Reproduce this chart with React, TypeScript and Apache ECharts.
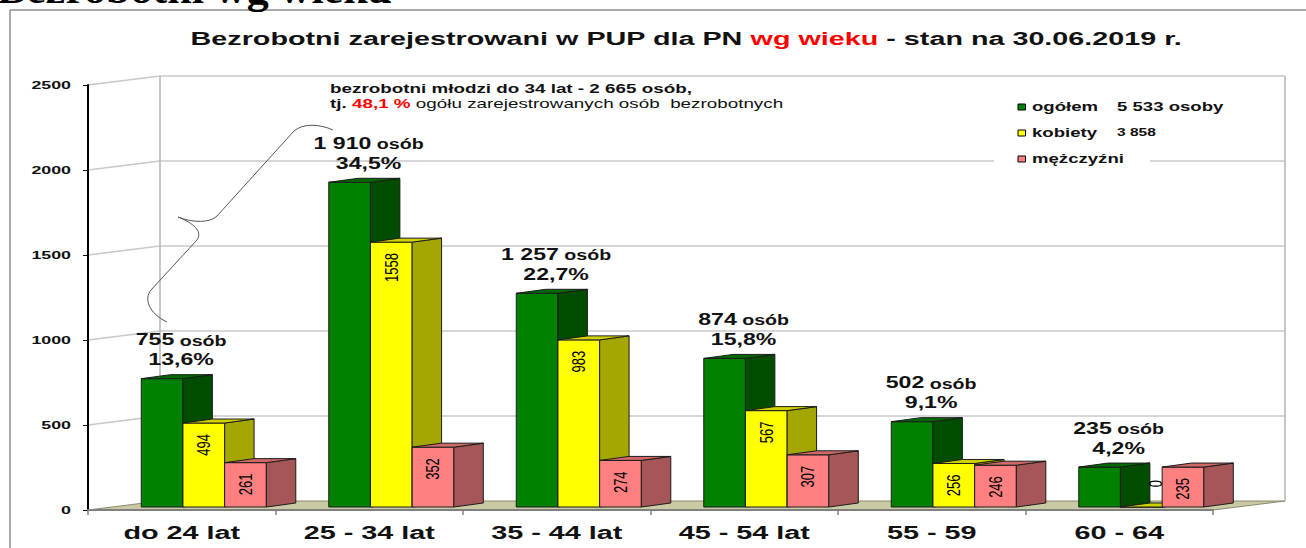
import React, { useEffect, useRef } from "react";
import * as echarts from "echarts";

// ---------- data ----------
const categories = ["do 24 lat", "25 - 34 lat", "35 - 44 lat", "45 - 54 lat", "55 - 59", "60 - 64"];
const seriesNames = ["ogółem", "kobiety", "mężczyźni"];
const totalValues = [755, 1910, 1257, 874, 502, 235];
const womenValues = [494, 1558, 983, 567, 256, 0];
const menValues = [261, 352, 274, 307, 246, 235];
const sharePercent = [13.6, 34.5, 22.7, 15.8, 9.1, 4.2];
const yTicks = [0, 500, 1000, 1500, 2000, 2500];
const youngCount = 2665;
const youngShare = 48.1;
const titleParts = ["Bezrobotni zarejestrowani w PUP dla PN ", "wg wieku", " - stan na 30.06.2019 r."];
const slideTitle = "Bezrobotni wg wieku";

// ---------- style ----------
const FONT = "'Liberation Sans', Arial, Helvetica, sans-serif";
const SX = 1.55; // horizontal stretch of texts in the reference
const DX = 72; // back wall offset
const DY = -9;

const barColors = [
  { front: "#008000", side: "#004d00", top: "#006a00" },
  { front: "#ffff00", side: "#a6a600", top: "#d2d200" },
  { front: "#ff8080", side: "#a65656", top: "#d06868" },
];

const fmt = (n: number) => String(n).replace(/\B(?=(\d{3})+(?!\d))/g, " ");
const pct = (p: number) => p.toFixed(1).replace(".", ",");
const sum = (a: number[]) => a.reduce((s, v) => s + v, 0);

const BRACE =
  "M333,130 C320,124 303,123 294,131 L217,216 C210,223 193,223 178,217 C193,223 203,231 197,240 L151,290 C144,298 148,313 167,322";
echarts.graphic.registerShape("brace", echarts.graphic.extendPath(BRACE, {}));

const renderWalls = (params: any, api: any) => {
  const cs = params.coordSys;
  const v = api.value(1);
  const y = api.coord([0, v])[1];
  const y0 = api.coord([0, 0])[1];
  const x0 = cs.x;
  const x1 = cs.x + cs.width;
  const grid = { stroke: "#c8c8c8", lineWidth: 1.5 };
  const ch: any[] = [];
  if (v === 0) {
    ch.push({
      type: "polygon",
      shape: { points: [[x0, y], [x1, y], [x1 + DX, y + DY], [x0 + DX, y + DY]] },
      style: { fill: "#c9c9a4", stroke: "#8a8a70", lineWidth: 1 },
    });
  } else {
    ch.push({ type: "line", shape: { x1: x0 + DX, y1: y + DY, x2: x1 + DX, y2: y + DY }, style: grid });
    ch.push({ type: "line", shape: { x1: x0, y1: y, x2: x0 + DX, y2: y + DY }, style: grid });
  }
  if (v === yTicks[yTicks.length - 1]) {
    const edge = { stroke: "#b4b4b4", lineWidth: 1.5 };
    ch.push({ type: "line", shape: { x1: x0 + DX, y1: y + DY, x2: x0 + DX, y2: y0 + DY }, style: edge });
    ch.push({ type: "line", shape: { x1: x1 + DX, y1: y + DY, x2: x1 + DX, y2: y0 + DY }, style: edge });
  }
  return { type: "group", children: ch };
};

const renderBar = (k: number) => (params: any, api: any) => {
  const idx = params.dataIndex;
  const v = api.value(1);
  const c = api.coord([idx, 0]);
  const band = api.size([1, 0])[0];
  const base = c[1] - 3;
  const top = api.coord([idx, v])[1] - 3;
  const w = band * 0.2224;
  const dx = band * 0.157;
  const dy = -4;
  const x = c[0] - band * 0.216 + k * w;
  const col = barColors[k];
  const edge = { stroke: "#1c1c1c", lineWidth: 1 };
  const children: any[] = [
    { type: "rect", shape: { x, y: top, width: w, height: base - top }, style: { fill: col.front, ...edge } },
    {
      type: "polygon",
      shape: { points: [[x + w, top], [x + w + dx, top + dy], [x + w + dx, base + dy], [x + w, base]] },
      style: { fill: col.side, ...edge },
    },
    {
      type: "polygon",
      shape: { points: [[x, top], [x + dx, top + dy], [x + w + dx, top + dy], [x + w, top]] },
      style: { fill: col.top, ...edge },
    },
  ];
  if (k === 0) {
    const lx = x + w / 2 + 19;
    children.push({
      type: "text",
      x: lx,
      y: top - 39,
      scaleX: 1.4,
      style: {
        text: `{n|${fmt(v)}}{o| osób}`,
        rich: {
          n: { font: `bold 16.5px ${FONT}`, fill: "#111", verticalAlign: "bottom" },
          o: { font: `bold 14px ${FONT}`, fill: "#111", verticalAlign: "bottom" },
        },
        align: "center",
        verticalAlign: "middle",
      },
    });
    children.push({
      type: "text",
      x: lx,
      y: top - 19,
      scaleX: 1.4,
      style: {
        text: `${pct(sharePercent[idx])}%`,
        font: `bold 16.5px ${FONT}`,
        fill: "#111",
        align: "center",
        verticalAlign: "middle",
      },
    });
  } else {
    const zero = v === 0;
    children.push({
      type: "text",
      x: zero ? x + w - 6 : x + w / 2,
      y: zero ? base - 27 : top + 11,
      rotation: Math.PI / 2,
      scaleY: 1.4,
      style: {
        text: String(v),
        font: `13px ${FONT}`,
        fill: "#000",
        align: "right",
        verticalAlign: "middle",
      },
    });
  }
  return { type: "group", children };
};

const renderYLabel = (params: any, api: any) => {
  const cs = params.coordSys;
  const v = api.value(1);
  const y = api.coord([0, v])[1];
  return {
    type: "text",
    x: cs.x - 17,
    y,
    scaleX: SX,
    style: { text: String(v), font: `bold 11.5px ${FONT}`, fill: "#111", align: "right", verticalAlign: "middle" },
  };
};

const renderCatLabel = (params: any, api: any) => {
  const p = api.coord([params.dataIndex, 0]);
  return {
    type: "text",
    x: p[0],
    y: p[1] + 23,
    scaleX: 1.6,
    style: {
      text: categories[params.dataIndex],
      font: `bold 18px ${FONT}`,
      fill: "#111",
      align: "center",
      verticalAlign: "middle",
    },
  };
};

const legendExtras = [
  { text: `${fmt(sum(totalValues))} osoby`, font: `bold 12px ${FONT}` },
  { text: fmt(sum(womenValues)), font: `bold 10px ${FONT}` },
  null,
];

function buildGraphic() {
  const g: any[] = [
    { type: "line", z: 50, shape: { x1: 10, y1: 10, x2: 1306, y2: 10 }, style: { stroke: "#8c8c8c", lineWidth: 1.5 } },
    { type: "line", z: 50, shape: { x1: 10, y1: 10, x2: 10, y2: 548 }, style: { stroke: "#8c8c8c", lineWidth: 1.5 } },
    {
      type: "text",
      z: 50,
      x: -3,
      y: -10,
      scaleX: 1.1,
      style: {
        text: slideTitle,
        font: "bold 40px 'Liberation Serif', 'Times New Roman', serif",
        fill: "#000",
        align: "left",
        verticalAlign: "middle",
      },
    },
    {
      type: "text",
      z: 50,
      x: 686,
      y: 38,
      scaleX: 1.553,
      style: {
        text: `{k|${titleParts[0]}}{r|${titleParts[1]}}{k|${titleParts[2]}}`,
        rich: {
          k: { font: `bold 18.5px ${FONT}`, fill: "#111" },
          r: { font: `bold 18.5px ${FONT}`, fill: "#ff0000" },
        },
        align: "center",
        verticalAlign: "middle",
      },
    },
    {
      type: "text",
      z: 50,
      x: 330,
      y: 89,
      scaleX: 1.57,
      style: {
        text: `bezrobotni młodzi do 34 lat - ${fmt(youngCount)} osób,`,
        font: `bold 12px ${FONT}`,
        fill: "#111",
        align: "left",
        verticalAlign: "middle",
      },
    },
    {
      type: "text",
      z: 50,
      x: 330,
      y: 104,
      scaleX: 1.57,
      style: {
        text: `{b|tj. }{r|${pct(youngShare)} %}{n| ogółu zarejestrowanych osób  bezrobotnych}`,
        rich: {
          b: { font: `bold 12px ${FONT}`, fill: "#111" },
          r: { font: `bold 12px ${FONT}`, fill: "#ff0000" },
          n: { font: `12px ${FONT}`, fill: "#111" },
        },
        align: "left",
        verticalAlign: "middle",
      },
    },
    { type: "brace", z: 50, style: { stroke: "#555", fill: "none", lineWidth: 1 } },
    { type: "rect", z: 50, shape: { x: 994, y: 93, width: 156, height: 75 }, style: { fill: "#fff" } },
  ];
  const rowY = [107, 133, 159];
  seriesNames.forEach((name, i) => {
    g.push({
      type: "rect",
      z: 51,
      shape: { x: 1018, y: rowY[i] - 3, width: 7.5, height: 6 },
      style: { fill: barColors[i].front, stroke: "#000", lineWidth: 1 },
    });
    g.push({
      type: "text",
      z: 51,
      x: 1032,
      y: rowY[i],
      scaleX: SX,
      style: { text: name, font: `bold 12px ${FONT}`, fill: "#111", align: "left", verticalAlign: "middle" },
    });
    const ex = legendExtras[i];
    if (ex) {
      g.push({
        type: "text",
        z: 51,
        x: 1117,
        y: rowY[i],
        scaleX: SX,
        style: { text: ex.text, font: ex.font, fill: "#111", align: "left", verticalAlign: "middle" },
      });
    }
  });
  return g;
}

export default function App() {
  const ref = useRef<HTMLDivElement>(null);
  useEffect(() => {
    if (!ref.current) return;
    const chart = echarts.init(ref.current, undefined, { renderer: "svg" });
    const valueSets = [totalValues, womenValues, menValues];
    chart.setOption({
      animation: false,
      backgroundColor: "#ffffff",
      grid: { left: 88, right: 93, top: 85, bottom: 38, containLabel: false, outerBoundsMode: "none" },
      xAxis: {
        type: "category",
        data: categories,
        z: 3,
        axisLine: { show: true, lineStyle: { color: "#808080", width: 2 } },
        axisTick: { show: true, length: 5, lineStyle: { color: "#808080", width: 1.5 } },
        axisLabel: { show: false },
        splitLine: { show: false },
      },
      yAxis: {
        type: "value",
        min: 0,
        max: 2500,
        interval: 500,
        z: 3,
        axisLine: { show: true, lineStyle: { color: "#000", width: 2 } },
        axisTick: { show: true, length: 5, lineStyle: { color: "#000", width: 1 } },
        axisLabel: { show: false },
        splitLine: { show: false },
      },
      series: [
        {
          type: "custom",
          name: "walls",
          z: 1,
          silent: true,
          renderItem: renderWalls,
          data: yTicks.map((v) => [0, v]),
        },
        ...seriesNames.map((name, k) => ({
          type: "custom",
          name,
          z: 2,
          renderItem: renderBar(k),
          data: valueSets[k].map((v, i) => [i, v]),
        })),
        {
          type: "custom",
          name: "yLabels",
          z: 3,
          silent: true,
          renderItem: renderYLabel,
          data: yTicks.map((v) => [0, v]),
        },
        {
          type: "custom",
          name: "xLabels",
          z: 3,
          silent: true,
          renderItem: renderCatLabel,
          data: categories.map((_, i) => [i, 0]),
        },
      ],
      graphic: buildGraphic(),
    });
    return () => chart.dispose();
  }, []);
  return (
    <div
      ref={ref}
      style={{ position: "fixed", left: 0, top: 0, width: 1306, height: 548, background: "#fff" }}
    />
  );
}
